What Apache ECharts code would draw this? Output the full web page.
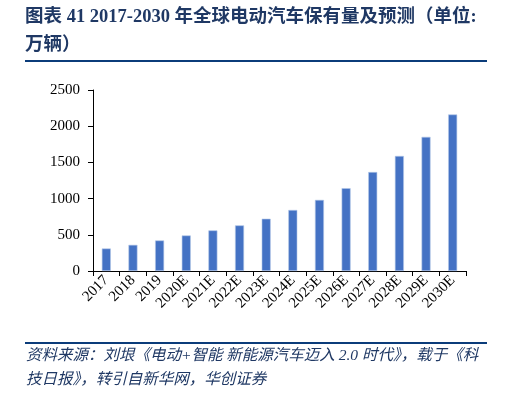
<!DOCTYPE html>
<html>
<head>
<meta charset="utf-8">
<script src="https://cdn.jsdelivr.net/npm/echarts@6/dist/echarts.min.js"></script>
<style>
  html, body { margin: 0; padding: 0; background: #fff; }
  #main { width: 522px; height: 397px; }
</style>
</head>
<body>
<div id="main"></div>
<script>
// 年份
var years = ['2017', '2018', '2019', '2020E', '2021E', '2022E', '2023E',
             '2024E', '2025E', '2026E', '2027E', '2028E', '2029E', '2030E'];
// 保有量（万辆）
var stock = [311, 361, 422, 491, 561, 630, 722, 843, 982, 1144, 1367, 1589, 1853, 2162];
var yTicks = [0, 500, 1000, 1500, 2000, 2500];

var titleLine1 = '图表 41 2017-2030 年全球电动汽车保有量及预测（单位:';
var titleLine2 = '万辆）';
var source1 = '资料来源：刘垠《电动+智能 新能源汽车迈入 2.0 时代》，载于《科';
var source2 = '技日报》，转引自新华网，华创证券';

var navy = '#1F3864';
var serif = '"Liberation Serif", "Times New Roman", "Noto Sans CJK SC", serif';

var myChart = echarts.init(document.getElementById('main'));

var option = {
    animation: false,
    grid: { left: 93, right: 56, top: 90, bottom: 126 },
    xAxis: {
        type: 'category',
        data: years,
        axisLine: { lineStyle: { color: '#000', width: 1 } },
        axisTick: { show: true, length: 5, lineStyle: { color: '#000' } },
        axisLabel: {
            interval: 0,
            rotate: 45,
            color: '#000',
            fontFamily: serif,
            fontSize: 15,
            margin: 7
        }
    },
    yAxis: {
        type: 'value',
        min: yTicks[0],
        max: yTicks[yTicks.length - 1],
        interval: 500,
        axisLine: { show: true, lineStyle: { color: '#000', width: 1 } },
        axisTick: { show: true, length: 5, lineStyle: { color: '#000' } },
        splitLine: { show: false },
        axisLabel: {
            color: '#000', fontFamily: serif, fontSize: 15, margin: 13,
            formatter: function (v) { return String(v); }
        }
    },
    series: [{
        type: 'bar',
        data: stock,
        barWidth: 9,
        itemStyle: { color: '#4472C4', borderColor: '#B4C7E7', borderWidth: 0.6 }
    }],
    graphic: [
        {
            type: 'text', left: 25, top: 8,
            style: { text: titleLine1, fill: navy, font: 'bold 18.5px ' + serif }
        },
        {
            type: 'text', left: 25, top: 36,
            style: { text: titleLine2, fill: navy, font: 'bold 18.5px ' + serif }
        },
        {
            type: 'rect', shape: { x: 25, y: 60, width: 462, height: 2 },
            style: { fill: '#0B3C7A' }
        },
        {
            type: 'rect', shape: { x: 25, y: 342, width: 462, height: 2 },
            style: { fill: '#0B3C7A' }
        },
        {
            type: 'text', left: 26, top: 348,
            style: { text: source1, fill: navy, font: 'italic 15.5px ' + serif }
        },
        {
            type: 'text', left: 26, top: 372,
            style: { text: source2, fill: navy, font: 'italic 15.5px ' + serif }
        }
    ]
};

myChart.setOption(option);
</script>
</body>
</html>
